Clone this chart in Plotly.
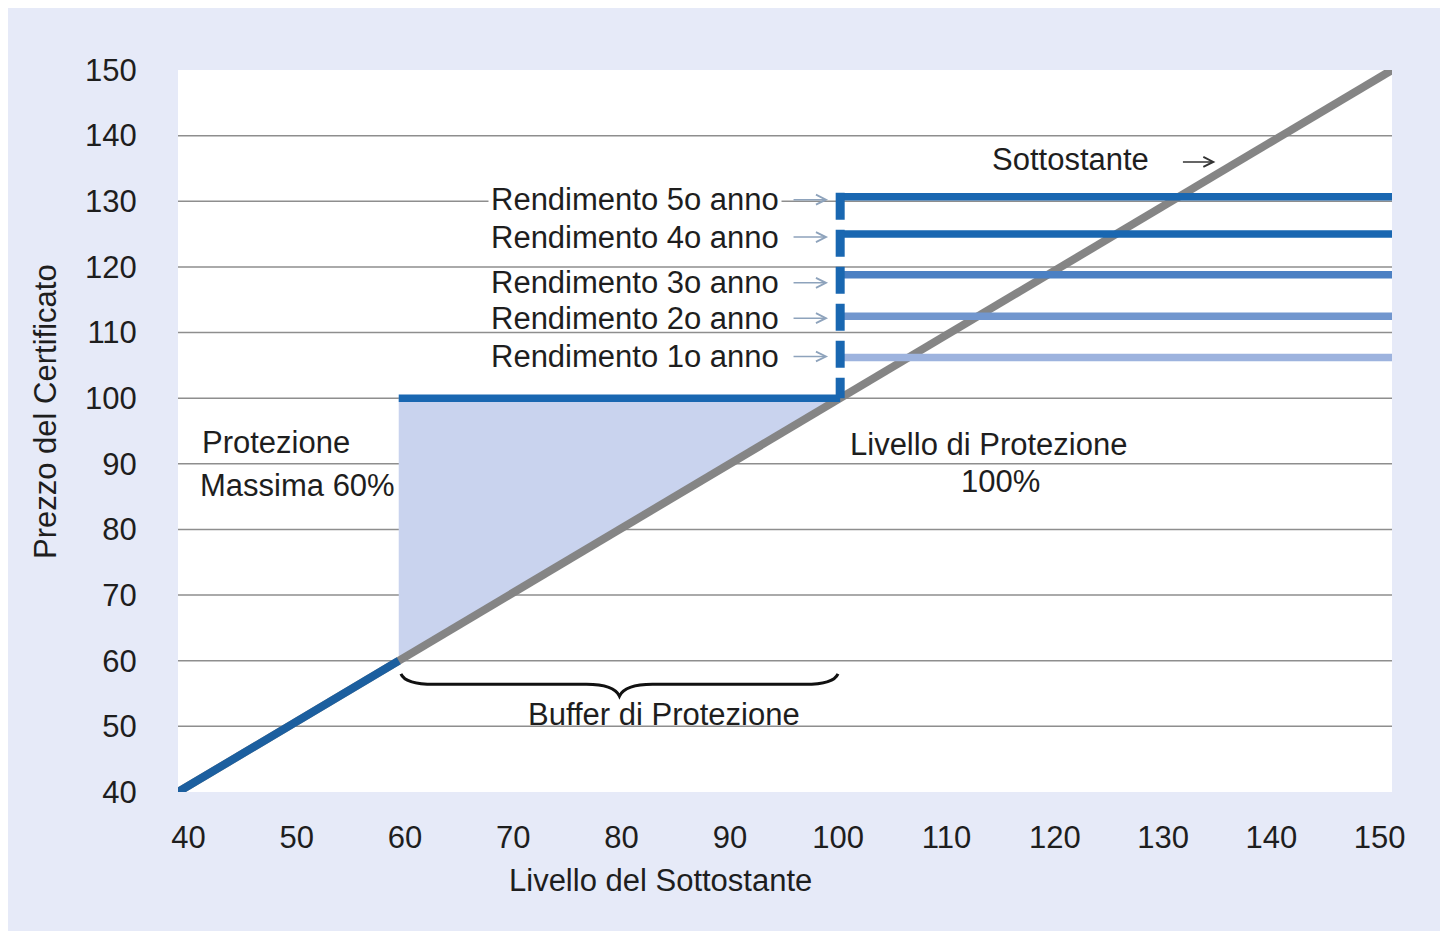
import plotly.graph_objects as go

# ---- data ----
x_ticks = [40, 50, 60, 70, 80, 90, 100, 110, 120, 130, 140, 150]
y_ticks = [40, 50, 60, 70, 80, 90, 100, 110, 120, 130, 140, 150]
underlying_x = [40, 150]
underlying_y = [40, 150]
barrier = 60          # protezione massima 60%
protection = 100      # livello di protezione 100%
year_labels = ["Rendimento 1o anno", "Rendimento 2o anno", "Rendimento 3o anno",
               "Rendimento 4o anno", "Rendimento 5o anno"]
year_levels = [106.2, 112.5, 118.8, 125.0, 130.7]
year_colors = ["#9DB3DE", "#7196CE", "#4B80C3", "#1967B1", "#1967B1"]
year_text_shift = [1, -2, -8, -3, -3]

FONT = "Liberation Sans, Arial, sans-serif"
TXT = "#1e1e1e"
FS = 31

fig = go.Figure()

# underlying diagonal (grey)
fig.add_trace(go.Scatter(x=underlying_x, y=underlying_y, mode="lines",
                         line=dict(color="#858585", width=8), hoverinfo="skip"))
# blue part of diagonal below barrier
fig.add_trace(go.Scatter(x=[underlying_x[0], barrier], y=[underlying_y[0], barrier], mode="lines",
                         line=dict(color="#1C5F9F", width=8), hoverinfo="skip"))
# protection level line
fig.add_trace(go.Scatter(x=[barrier, protection], y=[protection, protection], mode="lines",
                         line=dict(color="#1967B1", width=7.5), hoverinfo="skip"))
# yearly return levels
for lvl, col in zip(year_levels, year_colors):
    fig.add_trace(go.Scatter(x=[protection, underlying_x[1]], y=[lvl, lvl], mode="lines",
                             line=dict(color=col, width=7.5), hoverinfo="skip"))
# dashed vertical at protection (drawn top -> bottom so dashes start at the top)
fig.add_trace(go.Scatter(x=[protection, protection], y=[max(year_levels) + 0.6, protection], mode="lines",
                         line=dict(color="#1967B1", width=9, dash="27px,10px"), hoverinfo="skip"))

shapes = []
# white plot area
shapes.append(dict(type="rect", xref="paper", yref="paper",
                   x0=0, x1=1, y0=0, y1=1,
                   fillcolor="white", line=dict(width=0), layer="below"))
# buffer fill triangle
shapes.append(dict(type="path", xref="x", yref="y",
                   path=f"M {barrier},{barrier} L {barrier},{protection} L {protection},{protection} Z",
                   fillcolor="#C9D3EE", line=dict(width=0), layer="below"))
# gridlines
for v in y_ticks[1:-1]:
    shapes.append(dict(type="line", xref="paper", yref="y", x0=0, x1=1, y0=v, y1=v,
                       line=dict(color="#8E8E8E", width=1.5), layer="between"))
# curly brace for buffer
b0, b1 = barrier + 0.2, protection - 0.2
mid = (barrier + protection) / 2
top, midy, tip = 58.0, 56.4, 54.6
brace = (f"M {b0},{top} Q {b0+0.4},{midy} {b0+3},{midy} L {mid-3},{midy} "
         f"Q {mid-0.5},{midy} {mid},{tip} Q {mid+0.5},{midy} {mid+3},{midy} "
         f"L {b1-3},{midy} Q {b1-0.4},{midy} {b1},{top}")
shapes.append(dict(type="path", xref="x", yref="y", path=brace,
                   line=dict(color="#111111", width=3), layer="above"))

ann = []
for lab, lvl, sh in zip(year_labels, year_levels, year_text_shift):
    ann.append(dict(x=98.7, y=lvl, xref="x", yref="y", text=lab, showarrow=False,
                    xanchor="right", yanchor="middle", yshift=sh, xshift=-44,
                    font=dict(size=FS, color=TXT, family=FONT),
                    bgcolor="white" if lvl == max(year_levels) else None, borderpad=2))
    ann.append(dict(x=98.9, y=lvl, xref="x", yref="y", text="", showarrow=True,
                    ax=-36, ay=0, yshift=sh, arrowhead=5, arrowsize=1.3, arrowwidth=1.5,
                    arrowcolor="#8EA3BC", standoff=0))

ann += [
    dict(x=120.9, y=136.3, text="Sottostante", xanchor="center", showarrow=False),
    dict(x=134.0, y=136.0, text="", showarrow=True, ax=-34, ay=0,
         arrowhead=5, arrowsize=1.3, arrowwidth=1.5, arrowcolor="#333333", standoff=0),
    dict(x=42.0, y=93.3, text="Protezione", xanchor="left", showarrow=False),
    dict(x=41.8, y=86.7, text="Massima 60%", xanchor="left", showarrow=False),
    dict(x=100.7, y=92.9, text="Livello di Protezione", xanchor="left", showarrow=False),
    dict(x=114.5, y=87.3, text="100%", xanchor="center", showarrow=False),
    dict(x=84.0, y=51.8, text="Buffer di Protezione", xanchor="center", showarrow=False),
]
for a in ann[-7:]:
    a.setdefault("xref", "x"); a.setdefault("yref", "y")
    a["font"] = dict(size=FS, color=TXT, family=FONT)

# axis titles
ann.append(dict(x=(660 - 178) / 1214, y=(792 - 880) / 722, xref="paper", yref="paper",
                text="Livello del Sottostante", showarrow=False, xanchor="center", yanchor="middle",
                font=dict(size=FS, color=TXT, family=FONT)))
ann.append(dict(x=(45 - 178) / 1214, y=(792 - 412) / 722, xref="paper", yref="paper",
                text="Prezzo del Certificato", showarrow=False, textangle=-90,
                xanchor="center", yanchor="middle",
                font=dict(size=FS, color=TXT, family=FONT)))

# invisible trace on a label axis (the reference's x labels are spaced slightly tighter)
fig.add_trace(go.Scatter(x=[x_ticks[0], x_ticks[-1]], y=[underlying_y[0], underlying_y[0]],
                         xaxis="x2", mode="lines", line=dict(width=0), opacity=0,
                         hoverinfo="skip"))

fig.update_layout(
    width=1440, height=923,
    margin=dict(l=170, r=56, t=62, b=139),
    paper_bgcolor="#E6EAF8", plot_bgcolor="white",
    showlegend=False,
    shapes=shapes, annotations=ann,
    font=dict(family=FONT, size=FS, color=TXT),
    xaxis2=dict(overlaying="x", side="bottom", range=[39.04, 151.14], tickvals=x_ticks,
                showgrid=False, zeroline=False, showline=False, ticks="outside", ticklen=18,
                tickcolor="rgba(0,0,0,0)", tickfont=dict(size=FS, color=TXT, family=FONT)),
)
fig.layout.xaxis.update(range=[40, 150], showticklabels=False, showgrid=False,
                        zeroline=False, showline=False)
fig.update_yaxes(range=[40, 150], tickvals=y_ticks, showgrid=False, zeroline=False,
                 showline=False, ticks="outside", ticklen=34, tickcolor="rgba(0,0,0,0)",
                 tickfont=dict(size=FS, color=TXT, family=FONT))

fig.write_html("out.html")
